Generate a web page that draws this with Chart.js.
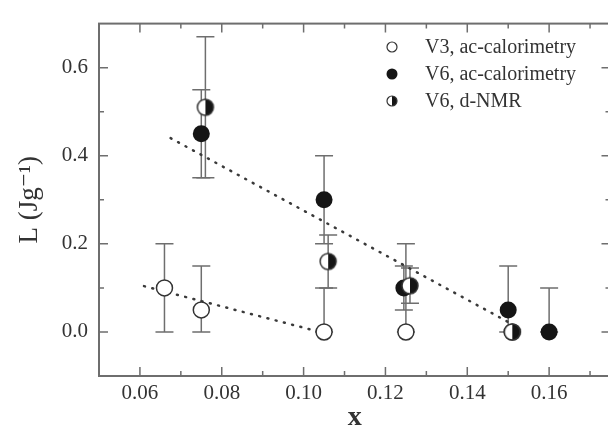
<!DOCTYPE html>
<html><head><meta charset="utf-8">
<script src="https://cdn.jsdelivr.net/npm/chart.js@4.4.1/dist/chart.umd.min.js"></script>
<style>html,body{margin:0;padding:0;background:#fff;overflow:hidden;width:608px;height:430px}canvas{display:block}</style>
</head><body>
<canvas id="c" width="620" height="430"></canvas>
<script>
// ---- data ----
const seriesLabels = ['V3, ac-calorimetry', 'V6, ac-calorimetry', 'V6, d-NMR'];

const v3X  = [0.066, 0.075, 0.105, 0.125, 0.151];
const v3Y  = [0.10, 0.05, 0.00, 0.00, 0.00];
const v3Lo = [0.00, 0.00, 0.00, 0.00, 0.00];
const v3Hi = [0.20, 0.15, 0.10, 0.20, 0.00];

const v6X  = [0.075, 0.105, 0.1245, 0.150, 0.160];
const v6Y  = [0.45, 0.30, 0.10, 0.05, 0.00];
const v6Lo = [0.35, 0.20, 0.05, 0.00, 0.00];
const v6Hi = [0.55, 0.40, 0.15, 0.15, 0.10];

const nmrX  = [0.076, 0.106, 0.126, 0.151];
const nmrY  = [0.51, 0.16, 0.105, 0.00];
const nmrLo = [0.35, 0.10, 0.065, 0.00];
const nmrHi = [0.67, 0.22, 0.145, 0.00];

const fitV6X = [0.0675, 0.1505];
const fitV6Y = [0.44, 0.02];
const fitV3X = [0.061, 0.104];
const fitV3Y = [0.104, 0.00];

const xTicks = [0.06, 0.08, 0.10, 0.12, 0.14, 0.16];
const xMinor = [0.07, 0.09, 0.11, 0.13, 0.15, 0.17];
const yTicks = [0.0, 0.2, 0.4, 0.6];
const yMinor = [0.1, 0.3, 0.5];

const xTitle = 'x';
const yTitle = 'L (Jg\u207B\u00B9)';

// ---- styles ----
const SERIF = '"Liberation Serif", "DejaVu Serif", serif';
const AXIS = '#6e6e6e';
const TXT = '#333333';
const ERR = '#6e6e6e';

function halfMarker(r, lw) {
  const s = Math.ceil(2 * r + lw + 2);
  const c = document.createElement('canvas');
  c.width = s; c.height = s;
  const g = c.getContext('2d');
  const m = s / 2;
  g.beginPath(); g.arc(m, m, r, 0, 2 * Math.PI); g.fillStyle = '#fff'; g.fill();
  g.beginPath(); g.moveTo(m, m - r); g.arc(m, m, r, -Math.PI / 2, Math.PI / 2); g.closePath();
  g.fillStyle = '#151515'; g.fill();
  g.beginPath(); g.arc(m, m, r, 0, 2 * Math.PI); g.lineWidth = lw; g.strokeStyle = '#333'; g.stroke();
  return c;
}
const halfBig = halfMarker(8, 1.5);
const halfSmall = halfMarker(5, 1.2);

const pts = (xs, ys) => xs.map((x, i) => ({x, y: ys[i]}));

const errSets = [
  {xs: v3X, lo: v3Lo, hi: v3Hi},
  {xs: v6X, lo: v6Lo, hi: v6Hi},
  {xs: nmrX, lo: nmrLo, hi: nmrHi}
];

const decor = {
  id: 'decor',
  beforeDatasetsDraw(chart) {
    const {ctx, chartArea: a, scales: {x, y}} = chart;
    ctx.save();
    ctx.beginPath(); ctx.rect(a.left, a.top, a.right - a.left, a.bottom - a.top); ctx.clip();
    ctx.strokeStyle = ERR; ctx.lineWidth = 1.5;
    const cap = 9;
    errSets.forEach(s => {
      s.xs.forEach((xv, i) => {
        if (s.hi[i] === s.lo[i]) return;
        const px = x.getPixelForValue(xv);
        const p1 = y.getPixelForValue(s.lo[i]);
        const p2 = y.getPixelForValue(s.hi[i]);
        ctx.beginPath();
        ctx.moveTo(px, p1); ctx.lineTo(px, p2);
        ctx.moveTo(px - cap, p1); ctx.lineTo(px + cap, p1);
        ctx.moveTo(px - cap, p2); ctx.lineTo(px + cap, p2);
        ctx.stroke();
      });
    });
    ctx.restore();
  },
  afterDraw(chart) {
    const {ctx, chartArea: a, scales: {x, y}} = chart;
    ctx.save();
    ctx.strokeStyle = AXIS; ctx.lineWidth = 2;
    ctx.strokeRect(a.left, a.top, a.right - a.left, a.bottom - a.top);
    ctx.lineWidth = 1.5;
    const maj = 9, mnr = 5;
    ctx.beginPath();
    const tx = (v, L) => { const p = x.getPixelForValue(v); ctx.moveTo(p, a.bottom); ctx.lineTo(p, a.bottom - L); ctx.moveTo(p, a.top); ctx.lineTo(p, a.top + L); };
    const ty = (v, L) => { const p = y.getPixelForValue(v); ctx.moveTo(a.left, p); ctx.lineTo(a.left + L, p); ctx.moveTo(a.right, p); ctx.lineTo(a.right - L, p); };
    xTicks.forEach(v => tx(v, maj)); xMinor.forEach(v => tx(v, mnr));
    yTicks.forEach(v => ty(v, maj)); yMinor.forEach(v => ty(v, mnr));
    ctx.stroke();

    // legend
    const lx = 392, tx0 = 425, ly = [47, 74, 101];
    ctx.font = '20px ' + SERIF; ctx.fillStyle = TXT; ctx.textBaseline = 'middle'; ctx.textAlign = 'left';
    seriesLabels.forEach((lab, i) => {
      const yy = ly[i];
      if (i === 0) { ctx.beginPath(); ctx.arc(lx, yy, 5, 0, 2 * Math.PI); ctx.fillStyle = '#fff'; ctx.fill(); ctx.lineWidth = 1.2; ctx.strokeStyle = '#333'; ctx.stroke(); }
      else if (i === 1) { ctx.beginPath(); ctx.arc(lx, yy, 5.5, 0, 2 * Math.PI); ctx.fillStyle = '#151515'; ctx.fill(); }
      else { ctx.drawImage(halfSmall, lx - halfSmall.width / 2, yy - halfSmall.height / 2); }
      ctx.fillStyle = TXT;
      ctx.fillText(lab, tx0, yy + 1);
    });
    ctx.restore();
  }
};

new Chart(document.getElementById('c'), {
  type: 'scatter',
  data: {
    datasets: [
      {label: seriesLabels[2], data: pts(nmrX, nmrY), pointStyle: halfBig, pointRadius: 8, order: 0},
      {label: seriesLabels[1], data: pts(v6X, v6Y), pointRadius: 8.5, backgroundColor: '#151515', borderColor: '#151515', borderWidth: 0, order: 1},
      {label: seriesLabels[0], data: pts(v3X, v3Y), pointRadius: 8, backgroundColor: '#fff', borderColor: '#333', borderWidth: 1.5, order: 2},
      {type: 'line', label: 'fit V6', data: pts(fitV6X, fitV6Y), showLine: true, pointRadius: 0, borderColor: '#3a3a3a', borderWidth: 2.5, borderDash: [1, 7.5], borderCapStyle: 'round', fill: false, order: 3},
      {type: 'line', label: 'fit V3', data: pts(fitV3X, fitV3Y), showLine: true, pointRadius: 0, borderColor: '#3a3a3a', borderWidth: 2.5, borderDash: [1, 7.5], borderCapStyle: 'round', fill: false, order: 3}
    ]
  },
  options: {
    responsive: false, animation: false, devicePixelRatio: 1,
    layout: {padding: {left: 0, right: 7, top: 15, bottom: 0}},
    plugins: {legend: {display: false}, tooltip: {enabled: false}},
    scales: {
      x: {
        type: 'linear', min: 0.05, max: 0.175,
        afterBuildTicks: s => { s.ticks = xTicks.map(v => ({value: v})); },
        afterFit: s => { s.height = 54; },
        grid: {display: false, drawTicks: false}, border: {display: false},
        ticks: {padding: 5, color: TXT, font: {family: SERIF, size: 21}, maxRotation: 0, autoSkip: false, callback: v => v.toFixed(2)},
        title: {display: true, text: xTitle, color: TXT, font: {family: SERIF, size: 28, weight: 'bold', lineHeight: 0.86}, padding: {top: 0, bottom: 0}}
      },
      y: {
        type: 'linear', min: -0.1, max: 0.7,
        afterBuildTicks: s => { s.ticks = yTicks.map(v => ({value: v})); },
        afterFit: s => { s.width = 99; },
        grid: {display: false, drawTicks: false}, border: {display: false},
        ticks: {padding: 11, color: TXT, font: {family: SERIF, size: 21}, callback: v => v.toFixed(1)},
        title: {display: true, text: yTitle, color: TXT, font: {family: SERIF, size: 27}, padding: {top: 14, bottom: 0}}
      }
    }
  },
  plugins: [decor]
});
</script>
</body></html>
